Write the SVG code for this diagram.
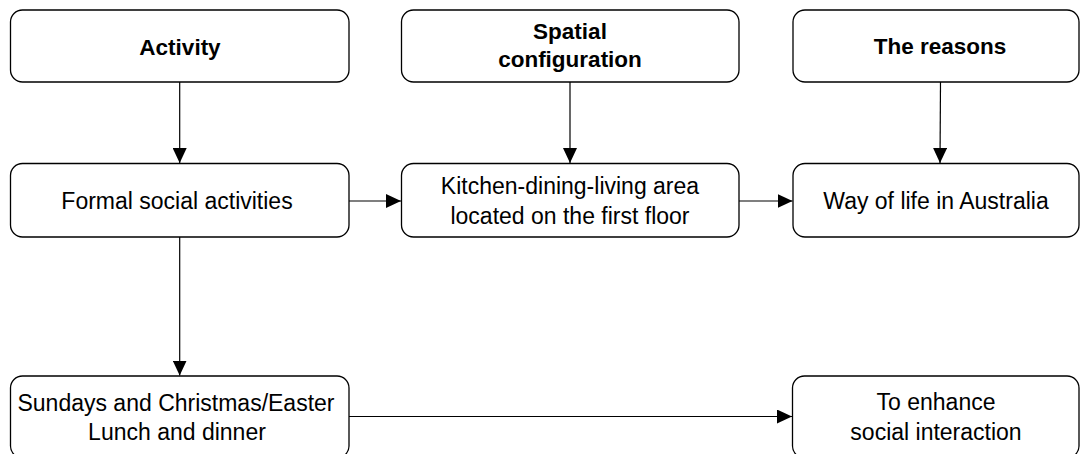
<svg xmlns="http://www.w3.org/2000/svg" width="1080" height="454" viewBox="0 0 1080 454">
  <style>
    .box { fill: #ffffff; stroke: #000000; stroke-width: 1.3; }
    .t { font-family: "Liberation Sans", Arial, sans-serif; font-size: 23px; fill: #000000; text-anchor: middle; }
    .b { font-weight: bold; font-size: 22.5px; }
    .edge { fill: none; stroke: #000000; stroke-width: 1.2; marker-end: url(#arrow); }
  </style>
  <defs>
    <marker id="arrow" markerUnits="userSpaceOnUse" markerWidth="16" markerHeight="14" refX="15" refY="7" orient="auto">
      <path d="M0,0 L15,7 L0,14 Z" fill="#000000"/>
    </marker>
  </defs>

  <rect width="1080" height="454" fill="#ffffff"/>

  <!-- Column headings -->
  <g id="activity">
    <rect class="box" x="10.5" y="10" width="338.5" height="72" rx="12" ry="12"/>
    <text class="t b" x="180" y="55">Activity</text>
  </g>
  <g id="spatial-configuration">
    <rect class="box" x="401.5" y="10" width="337.5" height="72" rx="12" ry="12"/>
    <text class="t b" x="570" y="39">Spatial</text>
    <text class="t b" x="570" y="67">configuration</text>
  </g>
  <g id="the-reasons">
    <rect class="box" x="793" y="10" width="286" height="72" rx="12" ry="12"/>
    <text class="t b" x="940" y="54">The reasons</text>
  </g>

  <!-- Middle row -->
  <g id="formal-social-activities">
    <rect class="box" x="10.5" y="163.5" width="338.5" height="73.5" rx="12" ry="12"/>
    <text class="t" x="177" y="209">Formal social activities</text>
  </g>
  <g id="kitchen-dining-living">
    <rect class="box" x="401.5" y="163.5" width="337.5" height="73.5" rx="12" ry="12"/>
    <text class="t" x="570" y="194">Kitchen-dining-living area</text>
    <text class="t" x="570" y="224">located on the first floor</text>
  </g>
  <g id="way-of-life">
    <rect class="box" x="793" y="163.5" width="286" height="73.5" rx="12" ry="12"/>
    <text class="t" x="936" y="209">Way of life in Australia</text>
  </g>

  <!-- Bottom row (runs off the lower edge) -->
  <g id="sundays-christmas-easter">
    <rect class="box" x="10.5" y="376" width="338.5" height="82" rx="12" ry="12"/>
    <text class="t" x="176" y="411">Sundays and Christmas/Easter</text>
    <text class="t" x="177" y="440">Lunch and dinner</text>
  </g>
  <g id="enhance-social-interaction">
    <rect class="box" x="792.5" y="376" width="286.5" height="82" rx="12" ry="12"/>
    <text class="t" x="936" y="410">To enhance</text>
    <text class="t" x="936" y="440">social interaction</text>
  </g>

  <!-- Connectors -->
  <g id="connectors">
    <path class="edge" d="M179.7,82 L179.7,163"/>
    <path class="edge" d="M570,82 L570,163"/>
    <path class="edge" d="M940.5,82 L940,163"/>
    <path class="edge" d="M349,201 L401,201"/>
    <path class="edge" d="M739,201 L792.5,201"/>
    <path class="edge" d="M179.7,237 L179.7,375.5"/>
    <path class="edge" d="M349,416.5 L792,416.5"/>
  </g>
</svg>
